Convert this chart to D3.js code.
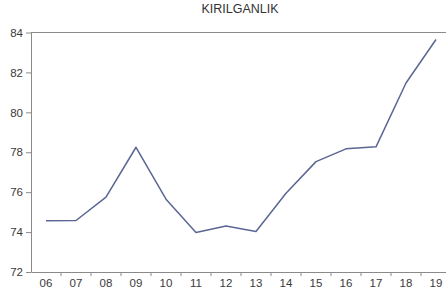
<!DOCTYPE html>
<html>
<head>
<meta charset="utf-8">
<script src="https://cdn.jsdelivr.net/npm/d3@7"></script>
<style>
  body { margin: 0; background: #fff; overflow: hidden; }
  svg { display: block; }
  text { font-family: "Liberation Sans", Arial, sans-serif; }
</style>
</head>
<body>
<svg id="drawing_region"></svg>
<script>
const years = ["06","07","08","09","10","11","12","13","14","15","16","17","18","19"];
const values = [74.57, 74.58, 75.75, 78.25, 75.65, 73.98, 74.3, 74.03, 75.95, 77.53, 78.17, 78.27, 81.47, 83.65];
const yTicks = [72, 74, 76, 78, 80, 82, 84];

const config = {
    width: 446,
    height: 299,
    margin: {top: 32.5, right: -5, bottom: 27, left: 31}
};

const svg = d3.select('#drawing_region')
    .attr('width', config.width)
    .attr('height', config.height);

const inner_width = config.width - config.margin.left - config.margin.right;
const inner_height = config.height - config.margin.top - config.margin.bottom;

const chart = svg.append('g')
    .attr('transform', `translate(${config.margin.left}, ${config.margin.top})`);

const xscale = d3.scaleBand()
    .domain(years)
    .range([0, inner_width])
    .padding(0);

const yscale = d3.scaleLinear()
    .domain([72, 84])
    .range([inner_height, 0]);

const axisColor = '#8a8a8a';
const textColor = '#3a3a3a';

// top border
chart.append('line')
    .attr('x1', 0).attr('x2', inner_width)
    .attr('y1', 0).attr('y2', 0)
    .attr('stroke', axisColor);

// y axis
const yaxis_group = chart.append('g')
    .call(d3.axisLeft(yscale).tickValues(yTicks).tickSize(5).tickPadding(3).tickSizeOuter(0));
yaxis_group.select('.domain').attr('stroke', axisColor);
yaxis_group.selectAll('.tick line').attr('stroke', axisColor);
yaxis_group.selectAll('.tick text')
    .attr('fill', textColor)
    .style('font-size', '11.5px')
    .style('font-family', '"Liberation Sans", Arial, sans-serif');

// x axis
const xaxis_group = chart.append('g')
    .attr('transform', `translate(0, ${inner_height})`)
    .call(d3.axisBottom(xscale).tickSize(0).tickPadding(7).tickSizeOuter(0));
xaxis_group.select('.domain').attr('stroke', axisColor);
xaxis_group.selectAll('.tick text')
    .attr('fill', textColor)
    .style('font-size', '11.5px')
    .style('font-family', '"Liberation Sans", Arial, sans-serif');

// ticks between categories
xaxis_group.selectAll('.sep')
    .data(years.slice(1))
    .enter()
    .append('line')
    .attr('class', 'sep')
    .attr('x1', d => xscale(d)).attr('x2', d => xscale(d))
    .attr('y1', 0).attr('y2', 4)
    .attr('stroke', axisColor);

// line
const line = d3.line()
    .x((d, i) => xscale(years[i]) + xscale.bandwidth() / 2)
    .y(d => yscale(d));

chart.append('path')
    .datum(values)
    .attr('d', line)
    .attr('fill', 'none')
    .attr('stroke', '#5a6694')
    .attr('stroke-width', 1.5)
    .attr('stroke-linejoin', 'round');

// title
svg.append('text')
    .attr('x', 240)
    .attr('y', 13)
    .attr('text-anchor', 'middle')
    .attr('fill', '#333')
    .style('font-size', '12.5px')
    .text('KIRILGANLIK');
</script>
</body>
</html>
